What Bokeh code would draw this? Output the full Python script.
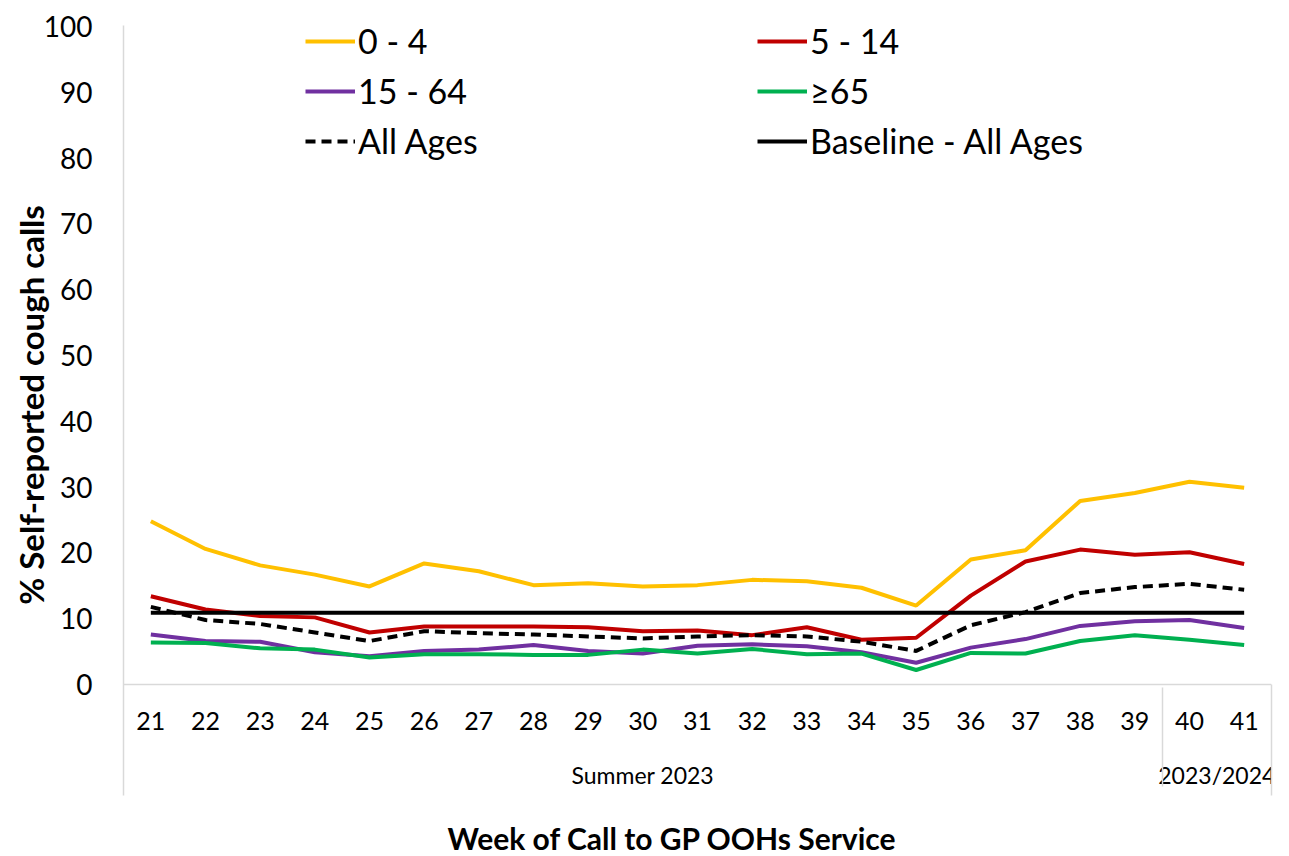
from bokeh.plotting import figure
from bokeh.models import (FactorRange, Range1d, FixedTicker, LinearAxis, Legend,
                          LegendItem, Title, ColumnDataSource)
from bokeh.embed import file_html
from bokeh.resources import INLINE

# ---------------- data ----------------
weeks = ["21", "22", "23", "24", "25", "26", "27", "28", "29", "30", "31",
         "32", "33", "34", "35", "36", "37", "38", "39", "40", "41"]
seasons = ["Summer 2023", "Summer 2023", "Summer 2023", "Summer 2023", "Summer 2023",
           "Summer 2023", "Summer 2023", "Summer 2023", "Summer 2023", "Summer 2023",
           "Summer 2023", "Summer 2023", "Summer 2023", "Summer 2023", "Summer 2023",
           "Summer 2023", "Summer 2023", "Summer 2023", "Summer 2023",
           "2023/2024", "2023/2024"]

age_0_4 = [24.8, 20.6, 18.1, 16.7, 14.9, 18.4, 17.2, 15.1, 15.4, 14.9, 15.1,
           15.9, 15.7, 14.7, 12.0, 19.0, 20.4, 27.9, 29.1, 30.8, 29.9]
age_5_14 = [13.4, 11.4, 10.4, 10.2, 7.9, 8.8, 8.8, 8.8, 8.7, 8.1, 8.2,
            7.5, 8.7, 6.8, 7.1, 13.5, 18.7, 20.5, 19.7, 20.1, 18.3]
age_15_64 = [7.6, 6.6, 6.5, 4.9, 4.3, 5.1, 5.3, 6.0, 5.1, 4.7, 5.9,
             6.1, 5.8, 4.9, 3.3, 5.6, 6.9, 8.9, 9.6, 9.8, 8.6]
age_65_plus = [6.4, 6.3, 5.5, 5.3, 4.1, 4.6, 4.6, 4.5, 4.5, 5.3, 4.7,
               5.4, 4.6, 4.7, 2.2, 4.8, 4.7, 6.6, 7.5, 6.8, 6.0]
all_ages = [11.8, 9.8, 9.2, 7.9, 6.6, 8.1, 7.8, 7.6, 7.3, 7.0, 7.3,
            7.5, 7.3, 6.5, 5.1, 9.0, 11.0, 13.9, 14.8, 15.3, 14.4]
baseline = [10.9, 10.9, 10.9, 10.9, 10.9, 10.9, 10.9, 10.9, 10.9, 10.9, 10.9,
            10.9, 10.9, 10.9, 10.9, 10.9, 10.9, 10.9, 10.9, 10.9, 10.9]

y_ticks = [0, 10, 20, 30, 40, 50, 60, 70, 80, 90, 100]

series_labels = ["0 - 4", "5 - 14", "15 - 64", "\u226565", "All Ages", "Baseline - All Ages"]

# ---------------- styling ----------------
FONT = "Lato"
GRAY = "#d9d9d9"
TXT = "#000000"
Y_MIN = -16.87   # frame extends below zero to host the category table
Y_MAX = 101.82   # a little head room above 100 for the legend
Y_LINE_TOP = 100.15

factors = list(zip(seasons, weeks))
source = ColumnDataSource(dict(x=factors, a=age_0_4, b=age_5_14, c=age_15_64,
                               d=age_65_plus, e=all_ages, f=baseline))

p = figure(width=1289, height=856,
           x_range=FactorRange(*factors, range_padding=0, group_padding=0,
                               subgroup_padding=0, factor_padding=0),
           y_range=Range1d(Y_MIN, Y_MAX),
           output_backend="svg", toolbar_location=None,
           min_border_left=123, min_border_right=18,
           min_border_top=14, min_border_bottom=61)
p.outline_line_color = None
p.grid.visible = False
p.background_fill_color = "white"

# y axis
ya = p.yaxis[0]
ya.ticker = FixedTicker(ticks=y_ticks)
ya.bounds = (Y_MIN, Y_LINE_TOP)
ya.major_label_text_font = FONT
ya.major_label_text_font_size = "28px"
ya.major_label_text_color = TXT
ya.major_tick_line_color = None
ya.minor_tick_line_color = None
ya.major_tick_out = 0
ya.major_tick_in = 0
ya.major_label_standoff = 31
ya.axis_line_color = GRAY
ya.axis_line_width = 1.5
ya.axis_label = "% Self-reported cough calls"
ya.axis_label_text_font = FONT
ya.axis_label_text_font_style = "bold"
ya.axis_label_text_font_size = "33px"
ya.axis_label_text_color = TXT
ya.axis_label_standoff = -10

# x axis (nested categories) drawn at y = 0
xa = p.xaxis[0]
xa.fixed_location = 0
xa.major_tick_line_color = None
xa.major_tick_out = 0
xa.major_tick_in = 0
xa.axis_line_color = GRAY
xa.axis_line_width = 1.5
xa.major_label_text_font = FONT
xa.major_label_text_font_size = "25px"
xa.major_label_text_color = TXT
xa.major_label_standoff = 28
xa.group_text_font = FONT
xa.group_text_font_size = "23px"
xa.group_text_font_style = "normal"
xa.group_text_color = TXT
xa.separator_line_color = GRAY
xa.separator_line_width = 1.5

# right border of the category table
ra = LinearAxis(bounds=(Y_MIN, 0), ticker=FixedTicker(ticks=[]),
                axis_line_color=GRAY, axis_line_width=1.5,
                major_tick_line_color=None, minor_tick_line_color=None,
                major_tick_out=0, major_tick_in=0,
                major_label_text_font_size="0px", major_label_standoff=0)
p.add_layout(ra, "right")

# lines
r1 = p.line("x", "a", source=source, line_color="#FFC000", line_width=4)
r2 = p.line("x", "b", source=source, line_color="#C00000", line_width=4)
r3 = p.line("x", "c", source=source, line_color="#7030A0", line_width=4)
r4 = p.line("x", "d", source=source, line_color="#00B050", line_width=4)
r5 = p.line("x", "e", source=source, line_color="#000000", line_width=4, line_dash="10 6")
r6 = p.line("x", "f", source=source, line_color="#000000", line_width=4)

legend = Legend(items=[LegendItem(label=lab, renderers=[r])
                       for lab, r in zip(series_labels, [r1, r2, r3, r4, r5, r6])],
                location=(182, 634), orientation="horizontal", ncols=2,
                glyph_width=50, glyph_height=20, label_standoff=3,
                label_width=390, label_height=20, spacing=9,
                padding=0, margin=0,
                label_text_font=FONT, label_text_font_size="34px",
                label_text_color=TXT,
                background_fill_alpha=0, border_line_color=None)
p.add_layout(legend)

# x axis title (a small blank spacer title pushes it down to the bottom edge)
spacer = Title(text=" ", text_font_size="10px", standoff=9)
p.add_layout(spacer, "below")
xtitle = Title(text="Week of Call to GP OOHs Service", align="left", offset=324,
               text_font=FONT, text_font_style="bold", text_font_size="30px",
               text_color=TXT, standoff=0)
p.add_layout(xtitle, "below")

open("out.html", "w").write(file_html(p, INLINE))
